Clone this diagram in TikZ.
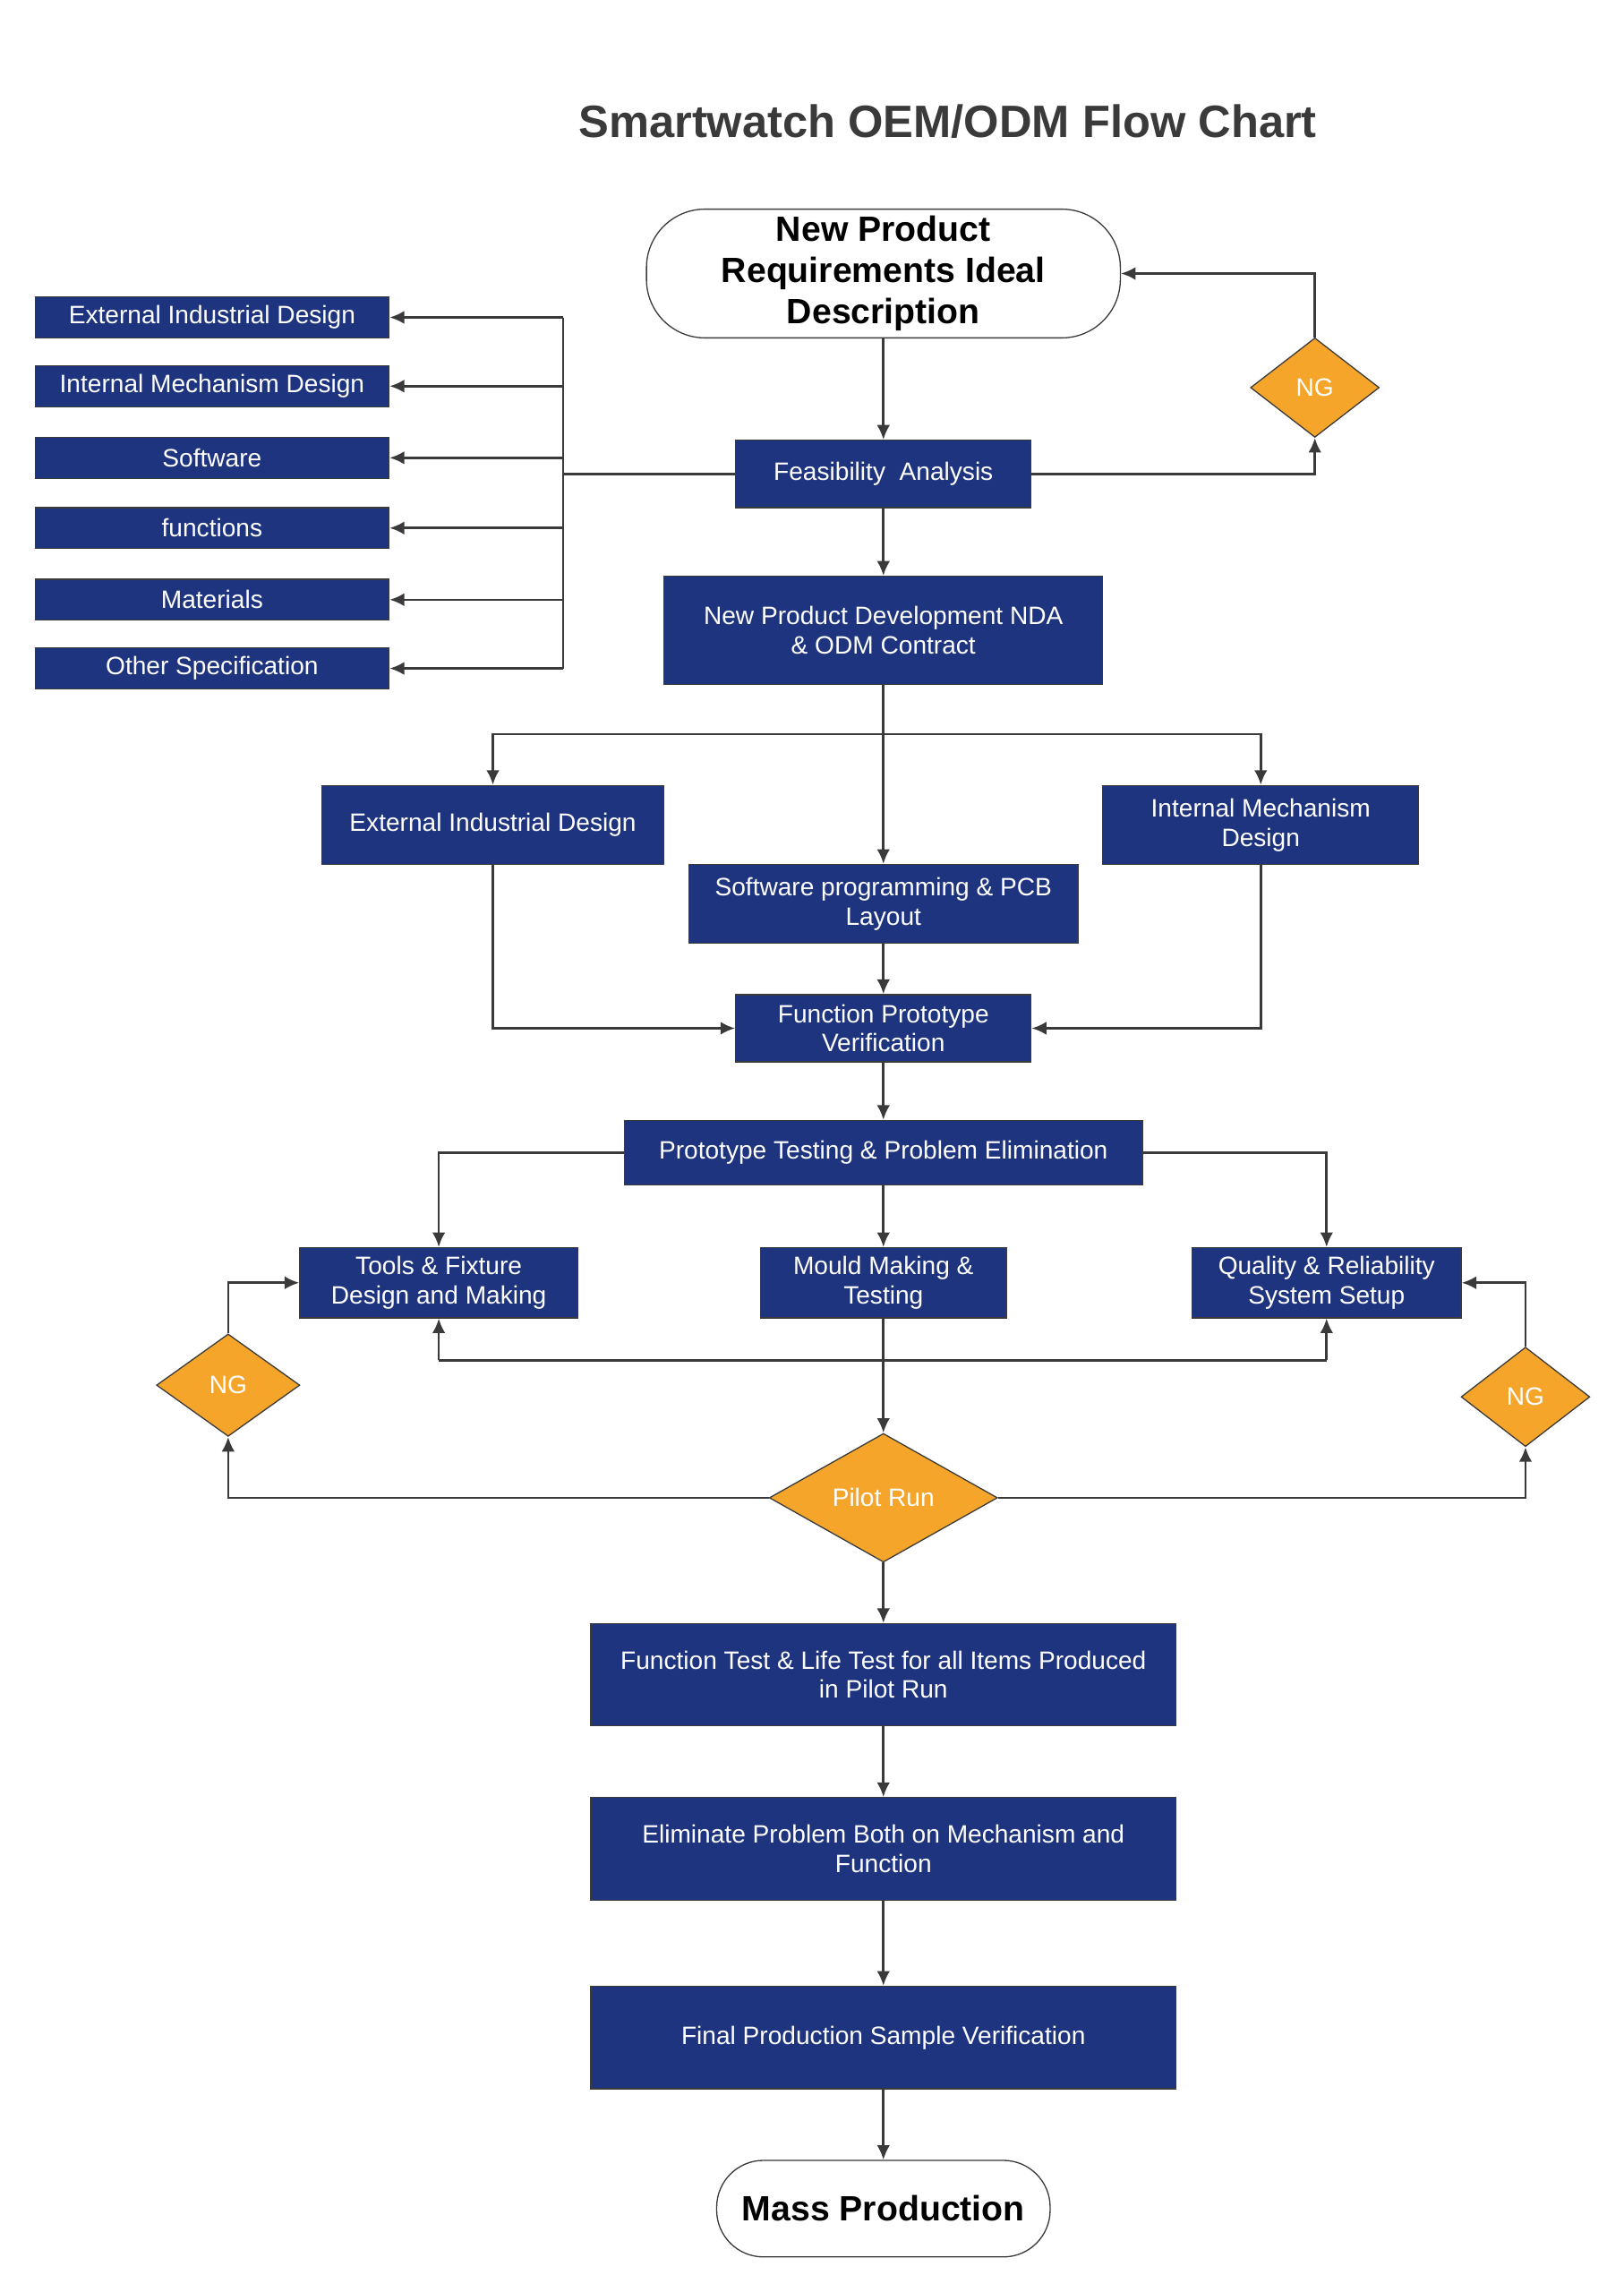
\documentclass[tikz,border=0pt]{standalone}
\usepackage{fontspec}
\setmainfont{Liberation Sans}
\usetikzlibrary{shapes.geometric,arrows.meta}
\definecolor{navy}{HTML}{1E347E}
\definecolor{amber}{HTML}{F5A52A}
\definecolor{ink}{HTML}{3A3A3A}
\tikzstyle{box} = [draw=ink, fill=navy, text=white, font=\fontsize{8.6}{10}\selectfont, align=center, inner sep=1pt]
\tikzstyle{ng} = [diamond, draw=ink, fill=amber, text=white, font=\fontsize{8.6}{10}\selectfont, aspect=1.3, inner sep=0pt]
\tikzstyle{term} = [draw=ink, rounded corners=20pt, fill=white, font=\bfseries\fontsize{12}{14}\selectfont, align=center, inner sep=1pt]
\tikzstyle{line} = [draw=ink, line width=0.8pt]
\tikzstyle{arr} = [line, -{Latex[length=5pt,width=4.5pt]}]

\begin{document}
\begin{tikzpicture}[x=0.5pt, y=-0.5pt]
\useasboundingbox (0,0) rectangle (1110,1567);
\node[font=\bfseries\fontsize{15.5}{18}\selectfont, text=ink] (title) at (648,83) {Smartwatch OEM/ODM Flow Chart};

\node[term, minimum width=162pt, minimum height=44pt] (req) at (604,187) {New Product\\Requirements Ideal\\Description};
\node[ng, minimum width=44pt, minimum height=34pt] (ng1) at (899,265) {NG};
\node[box, minimum width=101pt, minimum height=23pt] (feas) at (604,324) {Feasibility\ \ Analysis};

% specification list
\foreach \n/\y/\t in {a/217/External Industrial Design, b/264/Internal Mechanism Design, c/313/Software, d/361/functions, e/410/Materials, f/457/Other Specification}
  \node[box, minimum width=121pt, minimum height=14pt] (spec\n) at (145,\y) {\t};

\node[box, minimum width=150pt, minimum height=37pt] (nda) at (604,431) {New Product Development NDA\\\& ODM Contract};
\node[box, minimum width=117pt, minimum height=27pt] (ext) at (337,564) {External Industrial Design};
\node[box, minimum width=108pt, minimum height=27pt] (int) at (862,564) {Internal Mechanism\\Design};
\node[box, minimum width=133pt, minimum height=27pt] (soft) at (604,618) {Software programming \& PCB\\Layout};
\node[box, minimum width=101pt, minimum height=23pt] (fpv) at (604,703) {Function Prototype\\Verification};
\node[box, minimum width=177pt, minimum height=22pt] (ptest) at (604,788) {Prototype Testing \& Problem Elimination};
\node[box, minimum width=95pt, minimum height=24pt] (tools) at (300,877) {Tools \& Fixture\\Design and Making};
\node[box, minimum width=84pt, minimum height=24pt] (mould) at (604,877) {Mould Making \&\\Testing};
\node[box, minimum width=92pt, minimum height=24pt] (qual) at (907,877) {Quality \& Reliability\\System Setup};
\node[ng, minimum width=49pt, minimum height=35pt] (ng2) at (156,947) {NG};
\node[ng, minimum width=44pt, minimum height=34pt] (ng3) at (1043,955) {NG};
\node[ng, minimum width=78pt, minimum height=44pt] (pilot) at (604,1024) {Pilot Run};
\node[box, minimum width=200pt, minimum height=35pt] (ftest) at (604,1145) {Function Test \& Life Test for all Items Produced\\in Pilot Run};
\node[box, minimum width=200pt, minimum height=35pt] (elim) at (604,1264) {Eliminate Problem Both on Mechanism and\\Function};
\node[box, minimum width=200pt, minimum height=35pt] (final) at (604,1393) {Final Production Sample Verification};
\node[term, minimum width=114pt, minimum height=33pt, rounded corners=16pt] (mass) at (604,1510) {Mass Production};

% top loop
\draw[arr] (req) -- (feas);
\draw[arr] (feas.east) -| (ng1.south);
\draw[arr] (ng1.north) |- (req.east);
% specification bus
\coordinate (bus) at (385,324);
\draw[line] (feas.west) -- (bus);
\draw[line] (385,217) -- (385,457);
\foreach \n in {a,b,c,d,e,f}
  \draw[arr] (385,0 |- spec\n) -- (spec\n.east);
% development branches
\draw[arr] (feas) -- (nda);
\coordinate (split) at (604,502);
\draw[arr] (nda) -- (soft);
\draw[arr] (split) -| (ext.north);
\draw[arr] (split) -| (int.north);
\draw[arr] (ext.south) |- (fpv.west);
\draw[arr] (int.south) |- (fpv.east);
\draw[arr] (soft) -- (fpv);
\draw[arr] (fpv) -- (ptest);
\draw[arr] (ptest.west) -| (tools.north);
\draw[arr] (ptest.east) -| (qual.north);
\draw[arr] (ptest) -- (mould);
% pilot run
\draw[arr] (mould) -- (pilot);
\draw[line] (300,930) -- (907,930);
\draw[arr] (300,930) -- (tools.south);
\draw[arr] (907,930) -- (qual.south);
\draw[arr] (pilot.west) -| (ng2.south);
\draw[arr] (ng2.north) |- (tools.west);
\draw[arr] (pilot.east) -| (ng3.south);
\draw[arr] (ng3.north) |- (qual.east);
\draw[arr] (pilot) -- (ftest);
\draw[arr] (ftest) -- (elim);
\draw[arr] (elim) -- (final);
\draw[arr] (final) -- (mass);
\end{tikzpicture}
\end{document}
